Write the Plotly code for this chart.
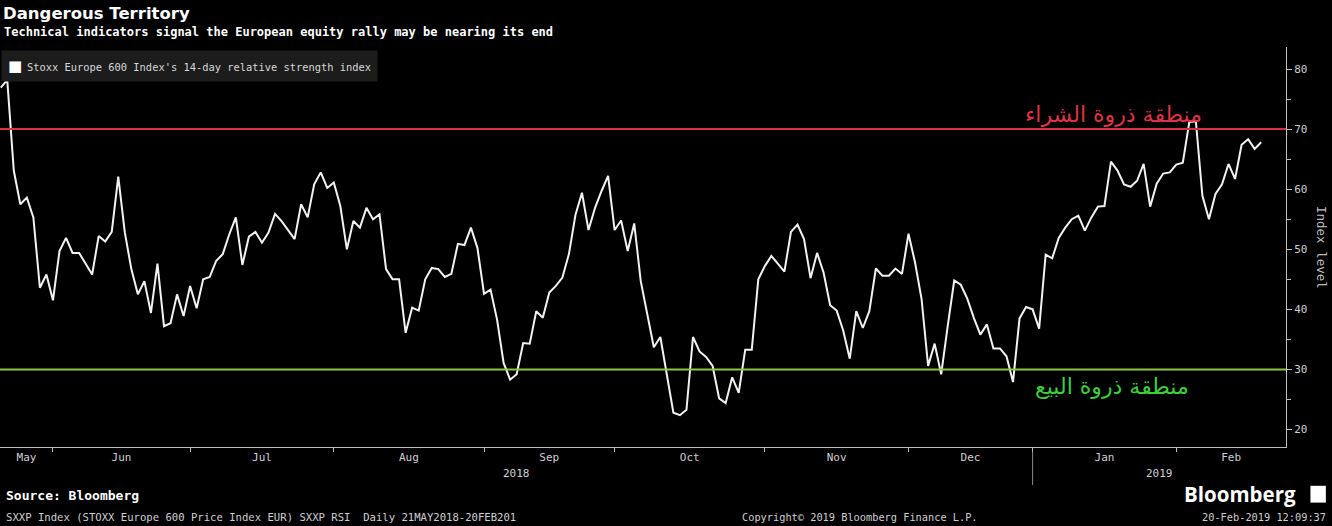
import plotly.graph_objects as go

# 14-day RSI, Stoxx Europe 600, one value per trading day (21 May 2018 - 20 Feb 2019)
rsi = [
    76.9, 78.2, 63.1, 57.5, 58.6, 55.3, 43.6, 45.8, 41.5, 49.7,
    51.9, 49.4, 49.4, 47.5, 45.8, 52.2, 51.3, 52.9, 62.1, 52.8,
    46.7, 42.5, 44.7, 39.4, 47.6, 37.2, 37.7, 42.5, 38.9, 43.9,
    40.2, 45.0, 45.4, 48.1, 49.2, 52.5, 55.3, 47.4, 52.1, 52.9,
    51.1, 52.8, 55.9, 54.7, 53.3, 51.7, 57.5, 55.3, 60.8, 62.8,
    60.2, 61.1, 57.2, 50.0,
    54.7, 53.6, 56.9, 55.0, 55.8, 46.7, 45.0, 45.0, 36.1, 40.3,
    39.8, 45.0, 46.9, 46.7, 45.4, 45.9, 50.9, 50.7, 53.6, 50.2,
    42.6, 43.3, 38.3, 31.1, 28.3, 29.2, 34.4, 34.3, 39.7, 38.6,
    42.8, 43.9, 45.3, 49.2, 55.7, 59.4, 53.2, 56.9, 59.7, 62.2,
    53.2, 54.8, 49.7, 54.3, 44.7, 39.2, 33.7, 35.4, 29.2, 22.8,
    22.4, 23.3, 35.4,
    33.0, 32.1, 30.6, 25.2, 24.4, 28.7, 26.1, 33.3, 33.3, 45.0,
    47.2, 48.9, 47.6, 46.3, 52.9, 54.1, 51.7, 45.2, 49.4, 46.1,
    40.7, 39.8, 36.5, 31.8, 39.7, 36.9, 39.7, 46.8, 45.6, 45.6,
    46.8, 45.9, 52.6, 47.8, 41.7, 30.6, 34.3, 29.2, 37.2, 44.8,
    44.1, 41.8, 38.6, 35.8, 37.5, 33.5, 33.5, 32.2, 27.9, 38.5,
    40.4, 40.0, 36.8, 49.1,
    48.5, 51.9, 53.6, 55.0, 55.6, 53.1, 55.3, 57.1, 57.2, 64.6,
    63.1, 60.8, 60.4, 61.4, 64.2, 57.1, 60.9, 62.6, 62.8, 64.1,
    64.4, 71.2, 71.3, 58.9, 55.0, 59.2, 60.8, 64.2, 61.7, 67.4,
    68.3, 66.7, 67.8,
]
trading_day = list(range(1, len(rsi) + 1))

# first trading day of each month (as trading-day index)
month_starts = [9, 30, 52, 75, 95, 118, 140, 159, 181]
month_names = ["May", "Jun", "Jul", "Aug", "Sep", "Oct", "Nov", "Dec", "Jan", "Feb"]
year_names = ["2018", "2019"]
x_range = [0.89, 197.8]
y_range = [17.1, 83.66]

overbought = 70
oversold = 30

mono = "DejaVu Sans Mono"
grey = "#cfcfcf"

bounds = [x_range[0]] + month_starts + [x_range[1]]
month_mid = [(a + b) / 2 for a, b in zip(bounds[:-1], bounds[1:])]
year_mid = [(x_range[0] + month_starts[7]) / 2, (month_starts[7] + x_range[1]) / 2]

fig = go.Figure()

fig.add_trace(go.Scatter(
    x=trading_day, y=rsi, mode="lines",
    line=dict(color="#f2f2f2", width=2),
    showlegend=False, hoverinfo="y"))

fig.add_hline(y=overbought, line=dict(color="#d8313f", width=2))
fig.add_hline(y=oversold, line=dict(color="#8cc63f", width=2))

fig.add_annotation(x=185.2, y=overbought, text="منطقة ذروة الشراء", showarrow=False,
                   xanchor="right", yanchor="bottom", yshift=0,
                   font=dict(family="DejaVu Sans", size=22, color="#de3344"))
fig.add_annotation(x=183.2, y=oversold, text="منطقة ذروة البيع", showarrow=False,
                   xanchor="right", yanchor="top", yshift=-3,
                   font=dict(family="DejaVu Sans", size=22, color="#3ccf3c"))

# legend box
fig.add_annotation(x=0, y=1, xref="paper", yref="paper", xanchor="left", yanchor="top",
                   xshift=1, yshift=-3, showarrow=False, align="left",
                   text="<span style='font-family:DejaVu Sans;font-size:15px;color:white'>■</span>"
                        "<span style='font-size:8px'> </span>"
                        "Stoxx Europe 600 Index's 14-day relative strength index",
                   bgcolor="#1c1c1c", borderpad=6,
                   font=dict(family=mono, size=10.4, color="#d8d8d8"))

# year labels and separator under the month axis
for xm, yr in zip(year_mid, year_names):
    fig.add_annotation(x=xm, y=-0.065, xref="x", yref="paper", text=yr, showarrow=False,
                       yanchor="middle", font=dict(family=mono, size=11, color=grey))
fig.add_shape(type="line", xref="x", yref="paper", x0=month_starts[7], x1=month_starts[7],
              y0=-0.012, y1=-0.095, line=dict(color="#8a8a8a", width=1))

# title block
fig.add_annotation(x=0, y=1.0825, xref="paper", yref="paper", xanchor="left", yanchor="middle",
                   xshift=1, text="<b>Dangerous Territory</b>", showarrow=False,
                   font=dict(family="DejaVu Sans", size=16.5, color="white"))
fig.add_annotation(x=0, y=1.0375, xref="paper", yref="paper", xanchor="left", yanchor="middle",
                   xshift=2,
                   text="<b>Technical indicators signal the European equity rally may be nearing its end</b>",
                   showarrow=False, font=dict(family=mono, size=12, color="white"))

# footer
fig.add_annotation(x=0, y=-0.12, xref="paper", yref="paper", xanchor="left", yanchor="middle",
                   xshift=4, text="<b>Source: Bloomberg</b>", showarrow=False,
                   font=dict(family=mono, size=13, color="white"))
fig.add_annotation(x=0, y=-0.175, xref="paper", yref="paper", xanchor="left", yanchor="middle",
                   xshift=4,
                   text="SXXP Index (STOXX Europe 600 Price Index EUR) SXXP RSI  Daily 21MAY2018-20FEB201",
                   showarrow=False, font=dict(family=mono, size=10.6, color=grey))
fig.add_annotation(x=0.5754, y=-0.175, xref="paper", yref="paper", xanchor="left", yanchor="middle",
                   text="Copyright© 2019 Bloomberg Finance L.P.", showarrow=False,
                   font=dict(family=mono, size=10.3, color=grey))
fig.add_annotation(x=1.0327, y=-0.175, xref="paper", yref="paper", xanchor="right", yanchor="middle",
                   text="20-Feb-2019 12:09:37", showarrow=False,
                   font=dict(family=mono, size=10.3, color=grey))
fig.add_annotation(x=1.0095, y=-0.1175, xref="paper", yref="paper", xanchor="right", yanchor="middle",
                   text="<b>Bloomberg</b>", showarrow=False,
                   font=dict(family="Open Sans", size=20.5, color="white"))
fig.add_shape(type="rect", xref="paper", yref="paper", x0=1.019, x1=1.031,
              y0=-0.139, y1=-0.097, fillcolor="white", line=dict(width=0))

# y axis title, reading top to bottom
fig.add_annotation(x=1.028, y=0.5, xref="paper", yref="paper", text="Index level",
                   textangle=90, showarrow=False, xanchor="center", yanchor="middle",
                   font=dict(family=mono, size=12.5, color="#bdbdbd"))

fig.update_layout(
    width=1332, height=526,
    margin=dict(l=0, r=46, t=47, b=79),
    paper_bgcolor="black", plot_bgcolor="black",
    showlegend=False,
    xaxis=dict(range=x_range, showgrid=False, zeroline=False,
               showline=True, linecolor="#bdbdbd", linewidth=1,
               tickmode="array", tickvals=month_mid, ticktext=month_names,
               ticks="", tickfont=dict(family=mono, size=11, color=grey),
               minor=dict(tickmode="array", tickvals=month_starts, ticks="outside",
                          ticklen=4, tickcolor="#bdbdbd", showgrid=False)),
    yaxis=dict(range=y_range, side="right", showgrid=False, zeroline=False,
               showline=True, linecolor="#bdbdbd", linewidth=1,
               tickmode="array", tickvals=[20, 30, 40, 50, 60, 70, 80],
               ticks="outside", ticklen=5, tickcolor="#bdbdbd",
               tickfont=dict(family=mono, size=11, color=grey),
               minor=dict(tickmode="array", tickvals=[25, 35, 45, 55, 65, 75],
                          ticks="outside", ticklen=4, tickcolor="#bdbdbd")),
)

fig.write_html("out.html", config={"displayModeBar": False},
               post_script="document.body.style.margin='0';document.body.style.background='black';")
